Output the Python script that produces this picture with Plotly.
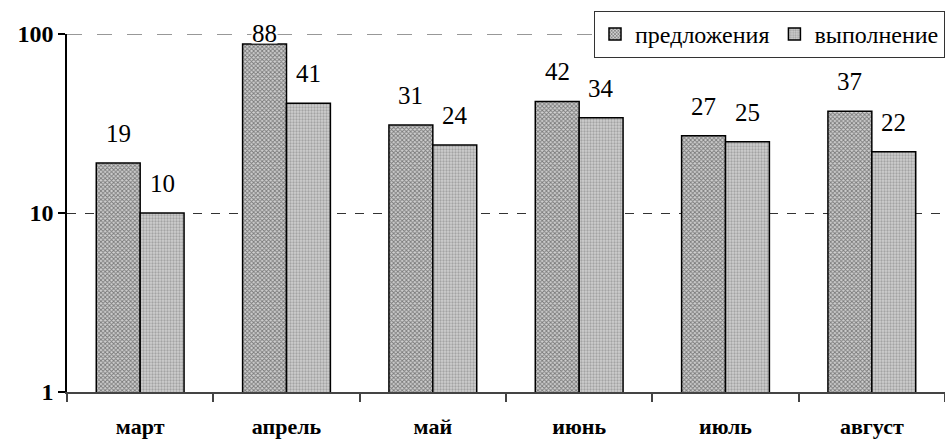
import math
import plotly.graph_objects as go

categories = ["март", "апрель", "май", "июнь", "июль", "август"]
series_names = ["предложения", "выполнение"]
predlozheniya = [19, 88, 31, 42, 27, 37]
vypolnenie = [10, 41, 24, 34, 25, 22]
y_tick_vals = [1, 10, 100]
y_tick_text = ["1", "10", "100"]

FONT = "Liberation Serif, Times New Roman, serif"
PLOT_TOP, PLOT_BOTTOM = 34, 54
HEIGHT = 446
PX_PER_DECADE = (HEIGHT - PLOT_TOP - PLOT_BOTTOM) / 2.0

fig = go.Figure()
fig.add_trace(go.Bar(
    name=series_names[0], x=categories, y=predlozheniya,
    marker=dict(color="#bdbdbd", line=dict(color="black", width=1.5),
                pattern=dict(shape="x", size=3, solidity=0.5, fgcolor="#222222", bgcolor="#d0d0d0")),
    offsetgroup=0,
))
fig.add_trace(go.Bar(
    name=series_names[1], x=categories, y=vypolnenie,
    marker=dict(color="#bdbdbd", line=dict(color="black", width=1.5),
                pattern=dict(shape=".", size=3, solidity=0.45, fgcolor="#777777", bgcolor="#cfcfcf")),
    offsetgroup=1,
))

# gridline at the top tick value
fig.add_hline(y=max(y_tick_vals), line=dict(color="#777777", width=1.5, dash="longdash"), layer="below")

# data labels
for k, vals in enumerate([predlozheniya, vypolnenie]):
    for i, v in enumerate(vals):
        room = (2 - math.log10(v)) * PX_PER_DECADE + 1
        fig.add_annotation(
            x=categories[i], y=math.log10(v), xref="x", yref="y",
            text=str(v), showarrow=False, bgcolor="white", borderpad=0, height=20,
            xshift=(-22 if k == 0 else 22), yshift=min(30, room),
            font=dict(family=FONT, size=25, color="black"),
        )

fig.update_layout(
    width=945, height=HEIGHT,
    margin=dict(l=67, r=0, t=PLOT_TOP, b=PLOT_BOTTOM, autoexpand=False),
    paper_bgcolor="white", plot_bgcolor="white",
    barmode="group", bargap=0.4, bargroupgap=0,
    font=dict(family=FONT, color="black"),
    showlegend=True,
    legend=dict(
        orientation="h", x=1, xanchor="right", y=1 + (PLOT_TOP - 11) / (HEIGHT - PLOT_TOP - PLOT_BOTTOM),
        yanchor="top", bgcolor="white", bordercolor="#333333", borderwidth=1,
        font=dict(family=FONT, size=24, color="black"),
        tracegroupgap=0,
    ),
)
fig.update_xaxes(
    type="category", range=[-0.5, 5.5],
    showline=True, linecolor="#444444", linewidth=1.5,
    ticks="outside", tickson="boundaries", ticklen=8, tickcolor="#444444", tickwidth=1.5,
    tickfont=dict(family=FONT, size=22, color="black", weight="bold"),
    ticklabelstandoff=14, showgrid=False,
)
fig.update_yaxes(
    type="log", range=[0, 2],
    tickvals=y_tick_vals, ticktext=y_tick_text,
    showline=True, linecolor="black", linewidth=1.5,
    ticks="outside", ticklen=7, tickcolor="black", tickwidth=1.5,
    tickfont=dict(family=FONT, size=24, color="black", weight="bold"),
    showgrid=True, gridcolor="#333333", griddash="dash", gridwidth=1,
)

fig.write_html("out.html", config={"displayModeBar": False},
               post_script="document.body.style.margin='0';document.body.style.overflow='hidden';")
